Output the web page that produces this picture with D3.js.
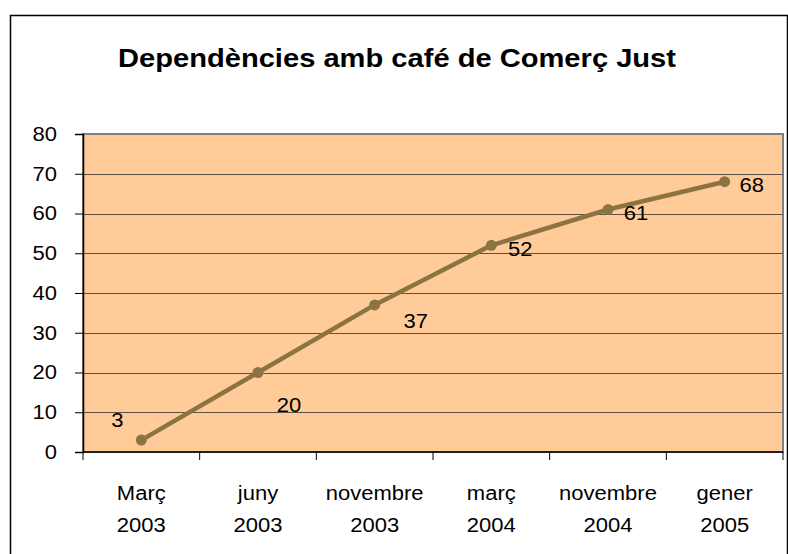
<!DOCTYPE html>
<html>
<head>
<meta charset="utf-8">
<script src="https://cdnjs.cloudflare.com/ajax/libs/d3/7.8.5/d3.min.js"></script>
<style>
  body { margin: 0; background: #fff; }
  text { font-family: "Liberation Sans", Arial, sans-serif; fill: #000; }
</style>
</head>
<body>
<div id="chart"></div>
<script>
// data
var months = ["Març", "juny", "novembre", "març", "novembre", "gener"];
var years = ["2003", "2003", "2003", "2004", "2004", "2005"];
var values = [3, 20, 37, 52, 61, 68];
var yTicks = [0, 10, 20, 30, 40, 50, 60, 70, 80];

// label nudges (the original has hand placed labels)
var labelDx = [-24, 31, 41, 29, 28, 27];
var labelDy = [-20, 32, 16, 4, 3, 3];

var W = 788, H = 554;
var margin = {top: 134, right: 5, bottom: 102, left: 83},
    width = W - margin.left - margin.right,
    height = H - margin.top - margin.bottom;

// the original text is a bit wider than Liberation Sans
function widen(sel, k) {
  sel.each(function() {
    var w = this.getComputedTextLength();
    d3.select(this).attr("textLength", w * k).attr("lengthAdjust", "spacingAndGlyphs");
  });
}

var svg = d3.select("#chart")
  .append("svg")
    .attr("width", W)
    .attr("height", H);

// outer chart border
svg.append("rect")
  .attr("x", 10.5).attr("y", 15.5)
  .attr("width", 777).attr("height", 600)
  .attr("fill", "none")
  .attr("stroke", "#000")
  .attr("stroke-width", 1.5);

svg.append("text")
  .attr("x", 397).attr("y", 67)
  .attr("text-anchor", "middle")
  .style("font-size", "26px")
  .style("font-weight", "bold")
  .text("Dependències amb café de Comerç Just")
  .attr("textLength", 558)
  .attr("lengthAdjust", "spacingAndGlyphs");

var g = svg.append("g")
  .attr("transform", "translate(" + margin.left + "," + margin.top + ")");

var x = d3.scaleBand()
  .domain(d3.range(values.length))
  .range([0, width]);

var y = d3.scaleLinear()
  .domain([0, 80])
  .range([height, 0]);

var cx = function(i) { return x(i) + x.bandwidth() / 2; };

g.append("rect")
  .attr("width", width).attr("height", height)
  .attr("fill", "#FFCC99")
  .attr("stroke", "#808080")
  .attr("stroke-width", 2);

// gridlines
g.append("g")
  .selectAll("line")
  .data(yTicks.filter(function(d) { return d > 0 && d < 80; }))
  .enter()
  .append("line")
    .attr("x1", 0).attr("x2", width)
    .attr("y1", function(d) { return Math.round(y(d)) + 0.5; })
    .attr("y2", function(d) { return Math.round(y(d)) + 0.5; })
    .attr("stroke", "#5e5044")
    .attr("stroke-width", 1.2);

// y axis
var yAxis = g.append("g")
  .call(d3.axisLeft(y).tickValues(yTicks).tickSize(8).tickPadding(18));
yAxis.select(".domain").attr("stroke", "#000").attr("stroke-width", 1.5);
yAxis.selectAll(".tick line").attr("stroke", "#000");
yAxis.selectAll("text")
  .style("font-size", "20px")
  .style("font-family", "Liberation Sans, Arial, sans-serif")
  .call(widen, 1.1);

// x axis, ticks sit on the category boundaries
var xAxis = g.append("g")
  .attr("transform", "translate(0," + height + ")");
xAxis.append("line")
  .attr("x1", 0).attr("x2", width)
  .attr("stroke", "#000").attr("stroke-width", 1.5);
xAxis.selectAll(".bt")
  .data(d3.range(values.length + 1))
  .enter()
  .append("line")
    .attr("class", "bt")
    .attr("x1", function(d) { return d < values.length ? x(d) : width; })
    .attr("x2", function(d) { return d < values.length ? x(d) : width; })
    .attr("y1", 0).attr("y2", 8)
    .attr("stroke", "#000");

xAxis.selectAll(".m")
  .data(months)
  .enter()
  .append("text")
    .attr("class", "m")
    .attr("text-anchor", "middle")
    .attr("x", function(d, i) { return cx(i); })
    .attr("y", 48)
    .style("font-size", "20px")
    .text(function(d) { return d; })
    .call(widen, 1.1);
xAxis.selectAll(".yr")
  .data(years)
  .enter()
  .append("text")
    .attr("class", "yr")
    .attr("text-anchor", "middle")
    .attr("x", function(d, i) { return cx(i); })
    .attr("y", 80)
    .style("font-size", "20px")
    .text(function(d) { return d; })
    .call(widen, 1.1);

// line + markers
var line = d3.line()
  .x(function(d, i) { return cx(i); })
  .y(function(d) { return y(d); });

g.append("path")
  .datum(values)
  .attr("d", line)
  .attr("fill", "none")
  .attr("stroke", "#8C7442")
  .attr("stroke-width", 4.5)
  .attr("stroke-linejoin", "round");

g.selectAll(".pt")
  .data(values)
  .enter()
  .append("circle")
    .attr("class", "pt")
    .attr("cx", function(d, i) { return cx(i); })
    .attr("cy", function(d) { return y(d); })
    .attr("r", 5.5)
    .attr("fill", "#8C7442");

g.selectAll(".lbl")
  .data(values)
  .enter()
  .append("text")
    .attr("class", "lbl")
    .attr("text-anchor", "middle")
    .attr("dominant-baseline", "central")
    .attr("x", function(d, i) { return cx(i) + labelDx[i]; })
    .attr("y", function(d, i) { return y(d) + labelDy[i]; })
    .style("font-size", "20px")
    .text(function(d) { return d; })
    .call(widen, 1.1);
</script>
</body>
</html>
